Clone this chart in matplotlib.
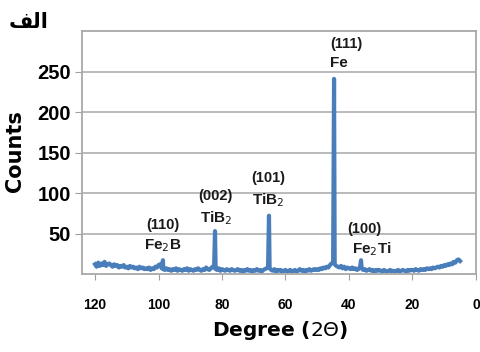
# XRD pattern (Counts vs 2-theta), reversed x axis

import matplotlib
matplotlib.use('Agg')
import matplotlib.pyplot as plt
import numpy as np

plt.rcParams['font.family'] = ['Liberation Sans', 'DejaVu Sans']

# Data
# background trace, 120 -> 5 deg in 0.5 deg steps
bg_deg = np.arange(120.0, 4.75, -0.5)
bg_counts = [
    12, 9, 14, 10, 13, 11, 15, 10, 12, 13,
    11, 9, 12, 10, 11, 8, 10, 9, 11, 8,
    9, 7, 10, 8, 9, 7, 8, 6, 9, 7,
    8, 6, 7, 6, 8, 5, 7, 6, 9, 8,
    11, 12, 7, 6, 5, 7, 5, 6, 4, 6,
    5, 7, 4, 6, 5, 4, 6, 5, 7, 4,
    6, 5, 4, 6, 5, 7, 5, 4, 6, 5,
    8, 6, 5, 7, 9, 8, 6, 5, 7, 4,
    6, 5, 4, 6, 5, 4, 6, 5, 4, 5,
    6, 4, 5, 3, 5, 4, 6, 4, 5, 3,
    5, 4, 6, 4, 5, 3, 5, 6, 7, 8,
    7, 5, 4, 6, 3, 5, 4, 5, 3, 4,
    5, 3, 4, 5, 3, 4, 5, 3, 4, 6,
    4, 5, 3, 5, 4, 6, 4, 5, 6, 5,
    6, 5, 7, 6, 8, 7, 9, 8, 11, 13,
    14, 12, 10, 9, 8, 10, 7, 9, 6, 8,
    7, 6, 8, 6, 7, 5, 6, 9, 7, 5,
    6, 4, 5, 6, 4, 5, 3, 5, 4, 5,
    4, 3, 5, 4, 3, 4, 5, 3, 4, 3,
    4, 5, 3, 4, 5, 4, 3, 5, 4, 5,
    5, 4, 6, 5, 4, 6, 5, 6, 5, 7,
    6, 7, 6, 8, 7, 8, 9, 8, 10, 9,
    11, 10, 12, 11, 13, 12, 15, 14, 17, 18,
    16,
]

# diffraction peaks
peak_deg = [98.6, 82.2, 65.2, 44.7, 36.2]
peak_counts = [17, 53, 72, 241, 17]
peak_hkl = ['(110)', '(002)', '(101)', '(111)', '(100)']
peak_phase = [r'Fe$_2$B', r'TiB$_2$', r'TiB$_2$', 'Fe', r'Fe$_2$Ti']

x_ticks = [120, 100, 80, 60, 40, 20, 0]
y_ticks = [50, 100, 150, 200, 250]

deg = np.concatenate([bg_deg, peak_deg])
counts = np.concatenate([bg_counts, peak_counts])
order = np.argsort(deg)[::-1]
deg, counts = deg[order], counts[order]

# Figure
fig = plt.figure(figsize=(4.81, 3.52), dpi=100)
ax = fig.add_axes([0.1705, 0.2216, 0.819, 0.690])

ax.plot(deg, counts, color='#4a7ebb', lw=3.0, solid_joinstyle='round')

ax.set_xlim(124.1, 0)
ax.set_ylim(0, 300)
ax.set_xticks(x_ticks)
ax.set_yticks(y_ticks)
ax.tick_params(axis='x', labelsize=10, length=4, color='#a0a0a0', pad=13)
ax.tick_params(axis='y', labelsize=14.5, length=5, color='#a0a0a0', pad=3)
for lab in ax.get_xticklabels() + ax.get_yticklabels():
    lab.set_fontweight('bold')
ax.grid(axis='y', color='#b4b4b4', lw=1.3)
ax.set_axisbelow(True)
for s in ax.spines.values():
    s.set_color('#a8a8a8')
    s.set_linewidth(1.3)

# peak labels (hkl line above phase line), placed in data coords
hkl_xy = [(98.6, 61), (82.2, 96), (65.5, 118), (40.9, 284), (35.0, 55)]
phase_xy = [(98.6, 35), (81.9, 69), (65.5, 91), (43.1, 261), (32.8, 31)]
for i in range(len(peak_hkl)):
    ax.text(*hkl_xy[i], peak_hkl[i], ha='center', va='center',
            fontsize=10.5, fontweight='bold', color='#1a1a1a')
    ax.text(*phase_xy[i], peak_phase[i], ha='center', va='center',
            fontsize=11, fontweight='bold', color='#1a1a1a')

fig.text(0.031, 0.571, 'Counts', rotation=90, ha='center', va='center',
         fontsize=15, fontweight='bold', family='DejaVu Sans')
fig.text(0.582, 0.0625, r'Degree ($\mathrm{2\Theta}$)', ha='center', va='center',
         fontsize=14.5, fontweight='bold', family='DejaVu Sans')
fig.text(0.10, 0.9375, '\ufed2\ufedf\ufe8d', ha='right', va='center',
         fontsize=15, fontweight='bold', family='DejaVu Sans')

fig.savefig('out.png', dpi=100)
